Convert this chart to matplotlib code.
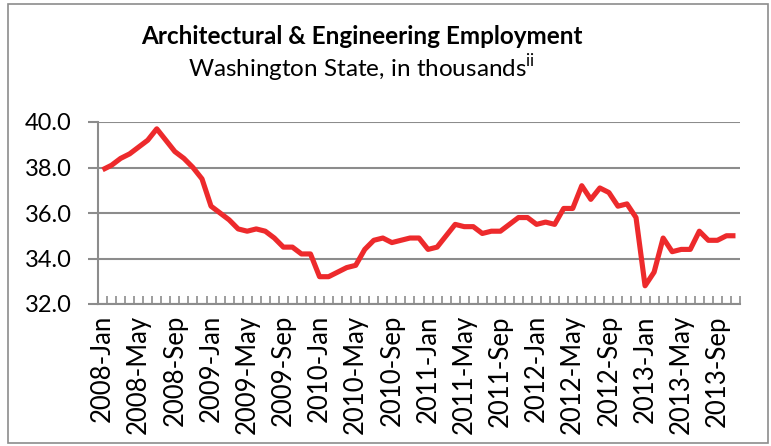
import numpy as np
import matplotlib
matplotlib.use("Agg")
import matplotlib.pyplot as plt
from matplotlib.patches import Rectangle
from matplotlib.ticker import MultipleLocator, FixedLocator

plt.rcParams['font.family'] = ['Lato', 'DejaVu Sans']
plt.rcParams['mathtext.fontset'] = 'custom'
plt.rcParams['mathtext.rm'] = 'Lato'

# monthly values, 2008-Jan .. 2013-Nov (thousands)
months = ['Jan', 'Feb', 'Mar', 'Apr', 'May', 'Jun',
          'Jul', 'Aug', 'Sep', 'Oct', 'Nov', 'Dec']
periods = ['%d-%s' % (y, m) for y in range(2008, 2014) for m in months][:71]

employment = [37.9, 38.1, 38.4, 38.6, 38.9, 39.2, 39.7, 39.2, 38.7, 38.4, 38.0, 37.5,
              36.3, 36.0, 35.7, 35.3, 35.2, 35.3, 35.2, 34.9, 34.5, 34.5, 34.2, 34.2,
              33.2, 33.2, 33.4, 33.6, 33.7, 34.4, 34.8, 34.9, 34.7, 34.8, 34.9, 34.9,
              34.4, 34.5, 35.0, 35.5, 35.4, 35.4, 35.1, 35.2, 35.2, 35.5, 35.8, 35.8,
              35.5, 35.6, 35.5, 36.2, 36.2, 37.2, 36.6, 37.1, 36.9, 36.3, 36.4, 35.8,
              32.8, 33.4, 34.9, 34.3, 34.4, 34.4, 35.2, 34.8, 34.8, 35.0, 35.0]

grey = '#8c8c8c'

fig = plt.figure(figsize=(7.71, 4.46), dpi=100)
ax = fig.add_axes([98/771, 1-304/446, (740-98)/771, (304-122)/446])

x = np.arange(len(employment))
ax.plot(x, employment, color='#ed2a2c', lw=3.7, solid_joinstyle='round', solid_capstyle='butt')

ax.set_xlim(-0.5, len(employment)-0.5)
ax.set_ylim(32, 40)
ax.yaxis.set_major_locator(MultipleLocator(2))
ax.yaxis.set_major_formatter(matplotlib.ticker.FormatStrFormatter('%.1f'))
ax.grid(axis='y', color=grey, lw=1.5)
ax.set_axisbelow(True)

lab_pos = x[::4]
ax.set_xticks(lab_pos)
ax.set_xticklabels([periods[i] for i in lab_pos], rotation=90, fontsize=18.5)
ax.xaxis.set_minor_locator(FixedLocator(np.arange(-0.5, len(employment), 1)))
ax.tick_params(axis='x', which='major', length=0, pad=8)
ax.tick_params(axis='x', which='minor', direction='in', length=6, width=1.2, color=grey)
ax.tick_params(axis='y', length=7, width=1.5, color=grey, labelsize=17, pad=12)

for s in ['top', 'right']:
    ax.spines[s].set_visible(False)
for s in ['left', 'bottom']:
    ax.spines[s].set_color(grey)
    ax.spines[s].set_linewidth(1.5)

fig.text(362/771, 1-36/446, 'Architectural & Engineering Employment',
         ha='center', va='center', fontsize=17.5, fontweight='bold')
fig.text(362/771, 1-68/446, r'Washington State, in thousands$^{\mathrm{ii}}$',
         ha='center', va='center', fontsize=17.5)

fig.patches.append(Rectangle((8/771, 3/446), 760/771, 439/446, transform=fig.transFigure,
                             fill=False, edgecolor=grey, lw=1.2))

fig.savefig('out.png', dpi=100)
